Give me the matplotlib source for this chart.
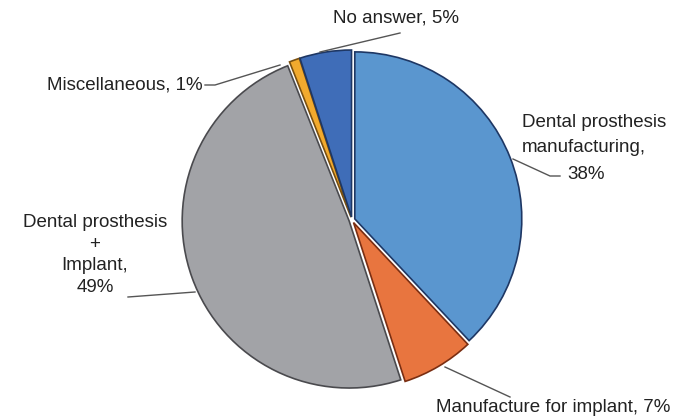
import matplotlib
matplotlib.use("Agg")
import matplotlib.pyplot as plt

plt.rcParams['font.family'] = ['Liberation Sans', 'DejaVu Sans']

labels = ['Dental prosthesis\nmanufacturing,\n38%', 'Manufacture for implant, 7%',
          'Dental prosthesis\n+\nImplant,\n49%', 'Miscellaneous, 1%', 'No answer, 5%']
values = [38, 7, 49, 1, 5]
colors = ['#5A96CF', '#E8753F', '#A2A3A7', '#F2AA2E', '#3F6DB8']
edges = ['#1E3764', '#7A2E12', '#4A4A4E', '#7A5010', '#1E3764']

W, H = 685, 419
fig = plt.figure(figsize=(W / 100, H / 100), dpi=100)
ax = fig.add_axes([0, 0, 1, 1])

cx, cy, r = 352, H - 220, 167
# explode is in data units here (1 unit = 1 px) -> white gaps between slices
wedges, _ = ax.pie(values, colors=colors, startangle=90, counterclock=False,
                   center=(cx, cy), radius=r, explode=[3] * len(values),
                   frame=True, wedgeprops=dict(linewidth=1.2))
for w, ec in zip(wedges, edges):
    w.set_edgecolor(ec)
ax.set_xlim(0, W)
ax.set_ylim(0, H)
ax.set_aspect('equal')
ax.axis('off')

# leader lines (pixel coords, y measured from top)
lines = [
    [(513, 159), (550, 176), (560, 176)],
    [(445, 367), (510, 397)],
    [(195, 292), (128, 297)],
    [(280, 65), (215, 85), (205, 85)],
    [(320, 52), (400, 33)],
]
for pts in lines:
    ax.plot([p[0] for p in pts], [H - p[1] for p in pts], color='#555555', lw=1)

fs = 13.5
tc = '#222222'
head, pct = labels[0].rsplit('\n', 1)
ax.text(522, H - 135, head, ha='left', va='center', fontsize=fs, linespacing=1.6, color=tc)
ax.text(567, H - 174, pct, ha='left', va='center', fontsize=fs, color=tc)
ax.text(553, H - 408, labels[1], ha='center', va='center', fontsize=fs, color=tc)
ax.text(95, H - 255, labels[2], ha='center', va='center', fontsize=fs, linespacing=1.36, color=tc)
ax.text(203, H - 85, labels[3], ha='right', va='center', fontsize=fs, color=tc)
ax.text(396, H - 18, labels[4], ha='center', va='center', fontsize=fs, color=tc)

fig.savefig('out.png', dpi=100)
